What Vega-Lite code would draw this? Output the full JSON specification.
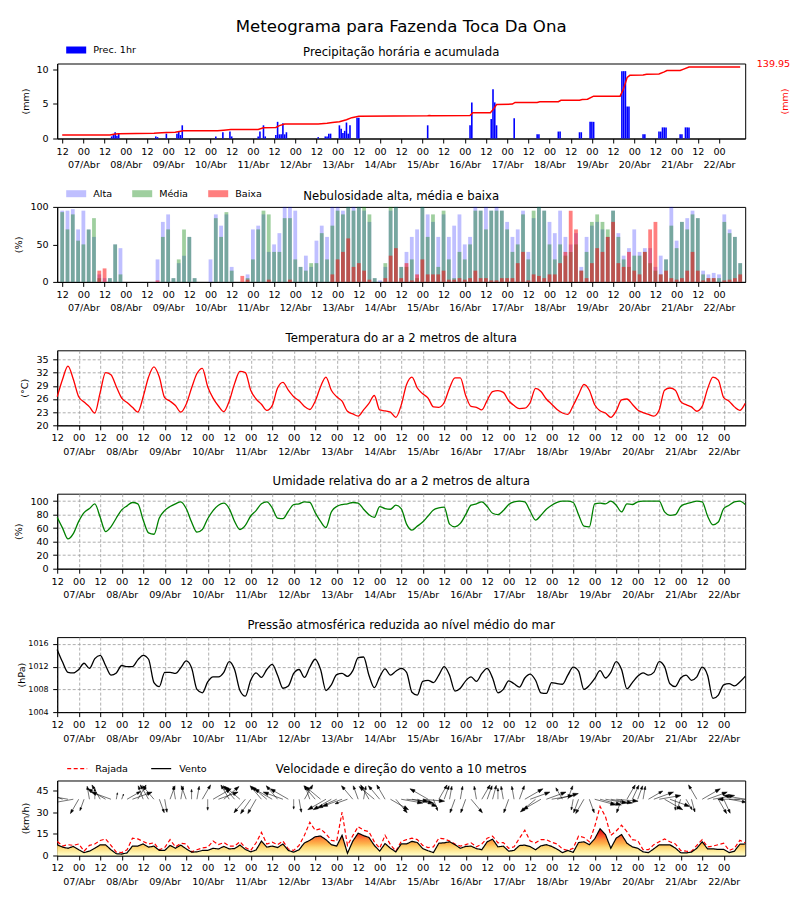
{
  "$schema": "https://vega.github.io/schema/vega-lite/v6.json",
  "autosize": {"type": "pad"},
  "padding": {"left": 12.2, "top": 18.5, "right": 12, "bottom": 10},
  "background": "white",
  "title": {"text": "Meteograma para Fazenda Toca Da Ona", "fontSize": 16.6, "fontWeight": "normal", "font": "DejaVu Sans", "color": "black", "anchor": "middle", "frame": "group", "baseline": "alphabetic", "offset": -9.5},
  "config": {
    "font": "DejaVu Sans",
    "view": {"stroke": "black", "strokeWidth": 1},
    "axis": {"domainColor": "black", "domainWidth": 1, "tickColor": "black", "tickWidth": 1, "tickSize": 4.5, "labelColor": "black", "labelFontSize": 9.6, "titleFontSize": 9.6, "titleFontWeight": "normal", "titleColor": "black", "grid": false, "gridColor": "#999999", "gridDash": [3, 2], "gridWidth": 0.8, "labelOverlap": false},
    "axisX": {"labelPadding": 3, "labelLineHeight": 13.5, "labelFlush": false, "labelOverlap": false},
    "axisY": {"labelPadding": 4.5, "titleAngle": 270, "titleAlign": "center", "titleBaseline": "middle"},
    "title": {"fontSize": 11.7, "fontWeight": "normal", "font": "DejaVu Sans", "color": "black", "anchor": "middle", "frame": "group", "baseline": "alphabetic"},
    "legend": {"padding": 0, "labelFontSize": 9.6, "labelColor": "black", "labelOffset": 7, "title": null}
  },
  "datasets": {
    "met": [
      {"h":0,"T":26.5,"U":76,"P":1015,"V":7.4,"R":9.7,"D":-60,"S":1.9,"A":95,"M":93,"B":0},
      {"h":3,"T":30.5,"U":60,"P":1012.8,"V":5.8,"R":6.6,"D":-70,"S":1.9,"A":95,"M":70,"B":0},
      {"h":6,"T":33.5,"U":44,"P":1011,"V":5,"R":7.5,"D":-80,"S":2.0,"A":97,"M":90,"B":0},
      {"h":9,"T":30.5,"U":52,"P":1010.9,"V":6.3,"R":7,"D":-100,"S":2.0,"A":70,"M":55,"B":0},
      {"h":12,"T":26.5,"U":70,"P":1011.5,"V":4,"R":8,"D":210,"S":1.5,"A":95,"M":50,"B":0},
      {"h":15,"T":25.3,"U":83,"P":1012.6,"V":2,"R":3,"D":200,"S":1.1,"A":70,"M":70,"B":0},
      {"h":18,"T":24.2,"U":89,"P":1011.7,"V":3,"R":7,"D":-10,"S":1.2,"A":60,"M":85,"B":0},
      {"h":21,"T":22.8,"U":96,"P":1013.4,"V":5,"R":8,"D":0,"S":1.0,"A":10,"M":5,"B":15},
      {"h":24,"T":27.5,"U":76,"P":1014,"V":7.4,"R":10.4,"D":-30,"S":1.5,"A":5,"M":0,"B":18},
      {"h":27,"T":32,"U":55,"P":1012.2,"V":7.4,"R":11.5,"D":-60,"S":1.9,"A":5,"M":5,"B":0},
      {"h":30,"T":31.5,"U":62,"P":1010.5,"V":4,"R":7,"D":-70,"S":1.9,"A":50,"M":50,"B":0},
      {"h":33,"T":28.8,"U":75,"P":1010.9,"V":1.2,"R":2.3,"D":10,"S":0.6,"A":45,"M":10,"B":0},
      {"h":36,"T":26.2,"U":87,"P":1012.2,"V":1,"R":2,"D":20,"S":0.5,"A":0,"M":0,"B":0},
      {"h":39,"T":25.2,"U":93,"P":1012,"V":1.8,"R":4,"D":60,"S":1.4,"A":0,"M":0,"B":0},
      {"h":42,"T":24.1,"U":98,"P":1012,"V":6.5,"R":12,"D":70,"S":1.9,"A":0,"M":0,"B":0},
      {"h":45,"T":23.0,"U":96,"P":1013.2,"V":6.5,"R":11.5,"D":30,"S":1.5,"A":0,"M":0,"B":0},
      {"h":48,"T":26.5,"U":72,"P":1014,"V":8,"R":9.7,"D":-20,"S":1.3,"A":0,"M":0,"B":0},
      {"h":51,"T":31,"U":53,"P":1013.3,"V":5.8,"R":8,"D":-30,"S":1.5,"A":0,"M":0,"B":0},
      {"h":54,"T":33.3,"U":51,"P":1009.2,"V":6.5,"R":8.8,"D":-40,"S":1.6,"A":30,"M":0,"B":2},
      {"h":57,"T":31,"U":75,"P":1008.5,"V":3.5,"R":4,"D":160,"S":1.3,"A":80,"M":60,"B":0},
      {"h":60,"T":26.3,"U":86,"P":1011,"V":3.5,"R":5.5,"D":170,"S":1.2,"A":90,"M":70,"B":0},
      {"h":63,"T":25.5,"U":92,"P":1011,"V":7,"R":11,"D":20,"S":1.3,"A":5,"M":5,"B":0},
      {"h":66,"T":24.5,"U":96,"P":1010.8,"V":5,"R":6,"D":-10,"S":1.2,"A":25,"M":30,"B":0},
      {"h":69,"T":23.0,"U":99,"P":1011.8,"V":7.2,"R":8.5,"D":10,"S":1.2,"A":35,"M":70,"B":0},
      {"h":72,"T":24.8,"U":89,"P":1013,"V":4.6,"R":8,"D":-20,"S":1.3,"A":60,"M":60,"B":0},
      {"h":75,"T":28.5,"U":69,"P":1011.8,"V":2.3,"R":2.5,"D":0,"S":0.9,"A":5,"M":5,"B":0},
      {"h":78,"T":31.8,"U":54,"P":1008,"V":2.5,"R":4,"D":10,"S":1.2,"A":0,"M":0,"B":0},
      {"h":81,"T":33,"U":58,"P":1007.4,"V":3.5,"R":5.2,"D":30,"S":1.5,"A":0,"M":0,"B":0},
      {"h":84,"T":28.8,"U":74,"P":1009.3,"V":3.5,"R":5.8,"D":180,"S":1.0,"A":30,"M":0,"B":0},
      {"h":87,"T":26.2,"U":86,"P":1010.2,"V":5,"R":10,"D":60,"S":1.9,"A":90,"M":85,"B":0},
      {"h":90,"T":24.4,"U":94,"P":1010.2,"V":4.5,"R":7.5,"D":70,"S":1.9,"A":75,"M":60,"B":0},
      {"h":93,"T":23.1,"U":97,"P":1011,"V":6.3,"R":9,"D":50,"S":1.8,"A":90,"M":93,"B":0},
      {"h":96,"T":25.5,"U":89,"P":1012.9,"V":4.6,"R":6.5,"D":-30,"S":1.5,"A":20,"M":15,"B":0},
      {"h":99,"T":29.5,"U":70,"P":1011.5,"V":4.8,"R":6.5,"D":-40,"S":1.6,"A":0,"M":0,"B":0},
      {"h":102,"T":32.3,"U":58,"P":1007.8,"V":7.2,"R":9.6,"D":-50,"S":1.8,"A":0,"M":0,"B":8},
      {"h":105,"T":32,"U":64,"P":1006.8,"V":4.2,"R":5.5,"D":220,"S":1.6,"A":10,"M":5,"B":3},
      {"h":108,"T":28,"U":78,"P":1009.6,"V":2.5,"R":3.5,"D":215,"S":1.6,"A":70,"M":30,"B":0},
      {"h":111,"T":26,"U":86,"P":1010.9,"V":3.8,"R":8.8,"D":210,"S":1.5,"A":75,"M":70,"B":0},
      {"h":114,"T":24.8,"U":96,"P":1010.1,"V":10,"R":16,"D":-40,"S":1.6,"A":90,"M":95,"B":0},
      {"h":117,"T":23.4,"U":99,"P":1011.5,"V":5.8,"R":8,"D":-50,"S":1.8,"A":40,"M":90,"B":3},
      {"h":120,"T":24.5,"U":90,"P":1012.4,"V":6.5,"R":9.2,"D":-60,"S":1.9,"A":50,"M":40,"B":0},
      {"h":123,"T":28.5,"U":75,"P":1010.5,"V":5.5,"R":7.5,"D":-40,"S":1.6,"A":65,"M":40,"B":0},
      {"h":126,"T":29.8,"U":74,"P":1008.2,"V":8,"R":10,"D":-70,"S":1.9,"A":100,"M":85,"B":0},
      {"h":129,"T":28,"U":85,"P":1008.6,"V":3.5,"R":4.5,"D":-60,"S":1.9,"A":100,"M":85,"B":3},
      {"h":132,"T":26.5,"U":95,"P":1010.8,"V":2.3,"R":3.5,"D":180,"S":0.9,"A":95,"M":30,"B":0},
      {"h":135,"T":25.6,"U":96,"P":1011.5,"V":4,"R":7,"D":170,"S":1.2,"A":20,"M":20,"B":0},
      {"h":138,"T":24.3,"U":99,"P":1010.1,"V":8.7,"R":14,"D":30,"S":1.5,"A":35,"M":15,"B":0},
      {"h":141,"T":23.6,"U":98,"P":1011.9,"V":10.5,"R":23,"D":-20,"S":1.3,"A":20,"M":25,"B":0},
      {"h":144,"T":25.5,"U":83,"P":1013.3,"V":13,"R":17.5,"D":-40,"S":1.6,"A":55,"M":25,"B":0},
      {"h":147,"T":28.8,"U":70,"P":1011.5,"V":13.5,"R":18.5,"D":-50,"S":1.8,"A":75,"M":65,"B":0},
      {"h":150,"T":31,"U":61,"P":1007.8,"V":11,"R":15,"D":240,"S":1.9,"A":60,"M":30,"B":0},
      {"h":153,"T":28,"U":84,"P":1008.8,"V":7.5,"R":10.5,"D":240,"S":1.9,"A":100,"M":75,"B":10},
      {"h":156,"T":26.5,"U":92,"P":1010.6,"V":6.5,"R":10,"D":245,"S":1.9,"A":100,"M":95,"B":30},
      {"h":159,"T":25.5,"U":95,"P":1010.8,"V":14,"R":30,"D":250,"S":1.9,"A":95,"M":90,"B":40},
      {"h":162,"T":23.2,"U":96,"P":1010.3,"V":1.5,"R":7,"D":250,"S":1.2,"A":100,"M":100,"B":58},
      {"h":165,"T":22.6,"U":98,"P":1011.3,"V":10,"R":13.8,"D":-40,"S":1.6,"A":100,"M":95,"B":20},
      {"h":168,"T":22.1,"U":97,"P":1013.6,"V":15.5,"R":20,"D":-20,"S":1.3,"A":100,"M":100,"B":25},
      {"h":171,"T":23.5,"U":88,"P":1013.7,"V":13.8,"R":17.5,"D":10,"S":1.2,"A":95,"M":100,"B":15},
      {"h":174,"T":25,"U":80,"P":1010.5,"V":12.5,"R":16.5,"D":-30,"S":1.5,"A":80,"M":90,"B":3},
      {"h":177,"T":26.8,"U":76,"P":1008.3,"V":7,"R":9.5,"D":-50,"S":1.8,"A":5,"M":5,"B":0},
      {"h":180,"T":23.5,"U":92,"P":1010.2,"V":3,"R":5,"D":-40,"S":1.6,"A":2,"M":0,"B":0},
      {"h":183,"T":23.3,"U":89,"P":1011.6,"V":8.3,"R":14,"D":-30,"S":1.5,"A":20,"M":25,"B":5},
      {"h":186,"T":23,"U":88,"P":1010.5,"V":5,"R":7.5,"D":120,"S":1.9,"A":95,"M":100,"B":35},
      {"h":189,"T":21.8,"U":94,"P":1011.2,"V":2.5,"R":3,"D":140,"S":1.6,"A":100,"M":100,"B":45},
      {"h":192,"T":24.6,"U":89,"P":1011.7,"V":8,"R":9.7,"D":100,"S":2.0,"A":20,"M":20,"B":5},
      {"h":195,"T":29.3,"U":66,"P":1011,"V":8,"R":11,"D":95,"S":2.0,"A":40,"M":20,"B":25},
      {"h":198,"T":31,"U":57,"P":1007.5,"V":9.8,"R":12,"D":100,"S":2.0,"A":60,"M":30,"B":2},
      {"h":201,"T":28.5,"U":63,"P":1007,"V":9,"R":11,"D":110,"S":1.9,"A":70,"M":5,"B":10},
      {"h":204,"T":27.2,"U":69,"P":1009.4,"V":4.8,"R":7,"D":95,"S":2.0,"A":100,"M":100,"B":30},
      {"h":207,"T":26.2,"U":78,"P":1009.6,"V":3.3,"R":5.5,"D":-60,"S":1.9,"A":90,"M":60,"B":10},
      {"h":210,"T":24.2,"U":87,"P":1009.2,"V":2,"R":6,"D":160,"S":1.1,"A":80,"M":90,"B":10},
      {"h":213,"T":24.1,"U":90,"P":1010.5,"V":8.5,"R":12,"D":30,"S":1.5,"A":60,"M":20,"B":10},
      {"h":216,"T":25.2,"U":91,"P":1012,"V":8.8,"R":11.5,"D":20,"S":1.3,"A":90,"M":95,"B":15},
      {"h":219,"T":28.5,"U":66,"P":1010.5,"V":9.5,"R":10,"D":10,"S":1.2,"A":60,"M":30,"B":3},
      {"h":222,"T":30.8,"U":62,"P":1007.7,"V":7.5,"R":8,"D":200,"S":1.3,"A":75,"M":5,"B":3},
      {"h":225,"T":30.8,"U":67,"P":1008.2,"V":5,"R":6.5,"D":10,"S":1.2,"A":90,"M":40,"B":5},
      {"h":228,"T":26.8,"U":80,"P":1009.5,"V":6.3,"R":7.5,"D":200,"S":1.3,"A":50,"M":30,"B":3},
      {"h":231,"T":24.3,"U":94,"P":1010.2,"V":6.5,"R":8.8,"D":140,"S":1.6,"A":60,"M":50,"B":5},
      {"h":234,"T":24.1,"U":96,"P":1009.4,"V":4.8,"R":6,"D":-10,"S":1.2,"A":100,"M":95,"B":15},
      {"h":237,"T":23.5,"U":99,"P":1010.8,"V":4,"R":8,"D":30,"S":1.5,"A":95,"M":95,"B":5},
      {"h":240,"T":25.7,"U":92,"P":1011.7,"V":9.5,"R":12,"D":20,"S":1.3,"A":100,"M":70,"B":5},
      {"h":243,"T":27.7,"U":82,"P":1010,"V":11.3,"R":13.4,"D":15,"S":1.3,"A":95,"M":95,"B":2},
      {"h":246,"T":27.9,"U":80,"P":1007.4,"V":6,"R":8.8,"D":0,"S":1.0,"A":100,"M":95,"B":2},
      {"h":249,"T":27.5,"U":86,"P":1008,"V":6.5,"R":9,"D":-10,"S":1.2,"A":95,"M":95,"B":5},
      {"h":252,"T":25.6,"U":95,"P":1009.5,"V":3,"R":5,"D":200,"S":1.3,"A":80,"M":70,"B":5},
      {"h":255,"T":24.5,"U":99,"P":1009,"V":3.5,"R":6,"D":-10,"S":1.2,"A":60,"M":40,"B":5},
      {"h":258,"T":23.8,"U":100,"P":1008.4,"V":6.9,"R":12,"D":20,"S":1.3,"A":70,"M":50,"B":25},
      {"h":261,"T":23.9,"U":99,"P":1010,"V":7.2,"R":17.5,"D":60,"S":1.9,"A":95,"M":90,"B":40},
      {"h":264,"T":25.2,"U":85,"P":1010.7,"V":6.2,"R":10,"D":70,"S":1.9,"A":40,"M":30,"B":2},
      {"h":267,"T":28.4,"U":72,"P":1009.6,"V":4,"R":8.8,"D":230,"S":1.8,"A":85,"M":95,"B":10},
      {"h":270,"T":27.7,"U":79,"P":1007.4,"V":6.7,"R":11,"D":240,"S":1.9,"A":100,"M":100,"B":8},
      {"h":273,"T":26,"U":88,"P":1007.3,"V":7.5,"R":11,"D":70,"S":1.9,"A":95,"M":95,"B":5},
      {"h":276,"T":24.8,"U":94,"P":1009.2,"V":6.3,"R":9.2,"D":80,"S":2.0,"A":80,"M":50,"B":10},
      {"h":279,"T":23.6,"U":98,"P":1009,"V":4.4,"R":8,"D":75,"S":2.0,"A":65,"M":30,"B":10},
      {"h":282,"T":22.8,"U":100,"P":1008.9,"V":2,"R":4.5,"D":-30,"S":1.2,"A":95,"M":50,"B":25},
      {"h":285,"T":22.5,"U":100,"P":1010.5,"V":3.5,"R":3.5,"D":20,"S":1.3,"A":60,"M":35,"B":40},
      {"h":288,"T":24.5,"U":98,"P":1011.9,"V":2.2,"R":5,"D":190,"S":1.0,"A":50,"M":40,"B":95},
      {"h":291,"T":27,"U":80,"P":1011.2,"V":9,"R":13.5,"D":200,"S":1.3,"A":65,"M":50,"B":70},
      {"h":294,"T":29.3,"U":63,"P":1008,"V":9.5,"R":12.5,"D":210,"S":1.5,"A":20,"M":15,"B":15},
      {"h":297,"T":28,"U":62,"P":1008.7,"V":7.5,"R":9.5,"D":160,"S":1.3,"A":60,"M":40,"B":5},
      {"h":300,"T":24.7,"U":96,"P":1009.9,"V":11.5,"R":20,"D":105,"S":2.0,"A":75,"M":80,"B":25},
      {"h":303,"T":23.3,"U":97,"P":1011.3,"V":18.5,"R":34,"D":105,"S":2.0,"A":80,"M":90,"B":45},
      {"h":306,"T":22.8,"U":96,"P":1010,"V":14.5,"R":27,"D":100,"S":2.0,"A":70,"M":80,"B":40},
      {"h":309,"T":21.8,"U":100,"P":1011,"V":5,"R":14,"D":100,"S":2.0,"A":60,"M":70,"B":60},
      {"h":312,"T":23.3,"U":94,"P":1012.9,"V":12,"R":17,"D":95,"S":2.0,"A":95,"M":95,"B":80},
      {"h":315,"T":25.8,"U":84,"P":1011.5,"V":14.5,"R":21,"D":200,"S":1.3,"A":65,"M":60,"B":25},
      {"h":318,"T":26,"U":96,"P":1008.1,"V":8.5,"R":16.5,"D":30,"S":1.5,"A":35,"M":30,"B":20},
      {"h":321,"T":24.8,"U":95,"P":1009.2,"V":6,"R":11,"D":25,"S":1.4,"A":45,"M":20,"B":40},
      {"h":324,"T":23.5,"U":99,"P":1010.3,"V":5,"R":10.4,"D":20,"S":1.3,"A":70,"M":35,"B":15},
      {"h":327,"T":22.9,"U":100,"P":1010.9,"V":2.5,"R":4,"D":10,"S":1.2,"A":40,"M":35,"B":10},
      {"h":330,"T":22.5,"U":100,"P":1010.5,"V":2,"R":4,"D":60,"S":1.5,"A":45,"M":40,"B":40},
      {"h":333,"T":22.1,"U":100,"P":1011,"V":4.6,"R":7.5,"D":70,"S":1.9,"A":45,"M":25,"B":70},
      {"h":336,"T":23.5,"U":100,"P":1012.9,"V":7.4,"R":9.5,"D":80,"S":2.0,"A":20,"M":15,"B":80},
      {"h":339,"T":28,"U":84,"P":1012,"V":7.4,"R":11.5,"D":120,"S":1.9,"A":35,"M":10,"B":10},
      {"h":342,"T":28.5,"U":79,"P":1009,"V":7.4,"R":9.5,"D":110,"S":1.9,"A":30,"M":30,"B":15},
      {"h":345,"T":28,"U":80,"P":1008.5,"V":5.2,"R":8,"D":180,"S":1.0,"A":100,"M":75,"B":5},
      {"h":348,"T":25.4,"U":92,"P":1010,"V":1.9,"R":3.5,"D":200,"S":1.0,"A":55,"M":45,"B":3},
      {"h":351,"T":24.7,"U":96,"P":1010.5,"V":1.8,"R":3,"D":150,"S":1.1,"A":80,"M":80,"B":5},
      {"h":354,"T":24.2,"U":98,"P":1009.6,"V":2.3,"R":2.8,"D":165,"S":1.2,"A":85,"M":70,"B":15},
      {"h":357,"T":23.2,"U":100,"P":1010.2,"V":5,"R":7,"D":-30,"S":1.5,"A":95,"M":90,"B":40},
      {"h":360,"T":24.3,"U":99,"P":1011.9,"V":9.5,"R":11,"D":60,"S":1.9,"A":85,"M":85,"B":15},
      {"h":363,"T":28.3,"U":78,"P":1010.5,"V":4.6,"R":6,"D":70,"S":1.9,"A":15,"M":10,"B":2},
      {"h":366,"T":31,"U":65,"P":1006.4,"V":4.6,"R":6.5,"D":80,"S":2.0,"A":10,"M":5,"B":5},
      {"h":369,"T":30.3,"U":69,"P":1007,"V":4.2,"R":7.5,"D":150,"S":1.5,"A":12,"M":5,"B":5},
      {"h":372,"T":26.3,"U":89,"P":1008.8,"V":4.2,"R":8.5,"D":155,"S":1.4,"A":10,"M":5,"B":0},
      {"h":375,"T":25.5,"U":94,"P":1009,"V":2,"R":3.5,"D":100,"S":1.6,"A":90,"M":80,"B":2},
      {"h":378,"T":24.2,"U":99,"P":1008.6,"V":3,"R":5,"D":90,"S":2.0,"A":70,"M":65,"B":3},
      {"h":381,"T":23.4,"U":100,"P":1009.3,"V":7.8,"R":10.5,"D":270,"S":2.0,"A":60,"M":60,"B":5},
      {"h":384,"T":25,"U":95,"P":1010.3,"V":8,"R":8.8,"D":280,"S":2.0,"A":25,"M":25,"B":10}
    ],
    "prec": [
      {"h":28,"p":0.3},{"h":29,"p":0.5},{"h":30,"p":0.9},{"h":31,"p":0.4},{"h":32,"p":0.7},
      {"h":53,"p":0.3},{"h":54,"p":0.2},{"h":59,"p":0.7},
      {"h":65,"p":0.7},{"h":66,"p":1.0},{"h":67,"p":0.5},{"h":68,"p":1.9},
      {"h":87,"p":0.3},{"h":91,"p":0.9},{"h":95,"p":1.0},{"h":96,"p":0.3},
      {"h":111,"p":0.3},{"h":112,"p":1.0},{"h":114,"p":1.9},{"h":115,"p":0.3},
      {"h":121,"p":0.5},{"h":122,"p":2.4},{"h":123,"p":0.6},{"h":124,"p":0.6},{"h":125,"p":2.2},{"h":126,"p":0.6},{"h":127,"p":0.9},
      {"h":145,"p":0.2},{"h":149,"p":0.3},{"h":150,"p":0.3},{"h":151,"p":0.7},{"h":152,"p":0.7},
      {"h":157,"p":1.9},{"h":158,"p":1.4},{"h":159,"p":0.8},{"h":160,"p":1.1},{"h":161,"p":2.3},{"h":162,"p":0.7},{"h":163,"p":1.9},
      {"h":167,"p":3.0},{"h":168,"p":3.0},
      {"h":207,"p":1.9},{"h":231,"p":1.9},{"h":232,"p":5.2},
      {"h":243,"p":2.8},{"h":244,"p":7.1},{"h":245,"p":5.2},{"h":246,"p":1.9},
      {"h":256,"p":2.9},{"h":269,"p":0.6},{"h":270,"p":0.6},{"h":281,"p":1.0},{"h":282,"p":1.0},
      {"h":293,"p":0.9},{"h":294,"p":0.9},{"h":299,"p":2.4},{"h":300,"p":2.4},{"h":301,"p":2.4},
      {"h":317,"p":9.7},{"h":318,"p":9.7},{"h":319,"p":9.7},{"h":320,"p":4.6},{"h":321,"p":4.6},
      {"h":329,"p":0.6},{"h":330,"p":0.6},
      {"h":338,"p":1.0},{"h":339,"p":1.0},{"h":340,"p":1.6},{"h":341,"p":1.6},{"h":342,"p":1.6},
      {"h":350,"p":0.6},{"h":351,"p":0.6},{"h":353,"p":1.6},{"h":354,"p":1.6},{"h":355,"p":1.6}
    ],
    "acum": [
      {"h":0,"a":6.5},{"h":27,"a":6.5},{"h":30,"a":8.4},{"h":32,"a":9.1},{"h":52,"a":9.7},{"h":54,"a":10.4},
      {"h":59,"a":11.0},{"h":64,"a":11.7},{"h":68.5,"a":14.3},{"h":88,"a":14.3},{"h":91.5,"a":15.6},{"h":95.5,"a":16.9},
      {"h":111,"a":16.9},{"h":114,"a":20.1},{"h":121,"a":20.7},{"h":123,"a":24.0},{"h":126,"a":27.2},{"h":145,"a":27.2},
      {"h":150,"a":28.5},{"h":153,"a":29.8},{"h":157,"a":31.1},{"h":161,"a":35.0},{"h":164,"a":38.9},{"h":168,"a":41.5},
      {"h":207,"a":42.4},{"h":208,"a":43.0},{"h":209,"a":42.5},{"h":231,"a":42.8},{"h":232.5,"a":48.0},{"h":242.5,"a":48.0},
      {"h":244.5,"a":55.7},{"h":246,"a":63.5},{"h":255,"a":64.2},{"h":256.5,"a":67.4},{"h":269,"a":67.4},{"h":270.5,"a":68.7},
      {"h":281,"a":68.7},{"h":282.5,"a":71.3},{"h":293,"a":71.3},{"h":294.5,"a":72.6},{"h":297.5,"a":73.2},{"h":301,"a":79.1},
      {"h":316,"a":79.1},{"h":318,"a":93.3},{"h":320,"a":114.1},{"h":321.5,"a":118.0},{"h":329,"a":118.6},{"h":331,"a":119.9},
      {"h":338,"a":120.6},{"h":341,"a":124.4},{"h":342.5,"a":127.0},{"h":350,"a":127.0},{"h":352,"a":129.6},{"h":355,"a":133.5},
      {"h":384,"a":133.5}
    ]
  },
  "vconcat": [
    {
      "width": 688, "height": 75,
      "title": {"text": "Precipitação horária e acumulada", "offset": -18.8},
      "layer": [
        {
          "data": {"name": "prec"},
          "mark": {"type": "bar", "width": 1.6},
          "encoding": {
            "x": {"field": "h", "type": "quantitative", "title": null, "scale": {"domain": [0, 384], "nice": false, "zero": false},
                  "axis": {"title": null, "grid": false, "labelOverlap": false, "labelFlush": false, "labelPadding": 3, "labelLineHeight": 13.5, "tickSize": 4.5, "values": [0,12,24,36,48,60,72,84,96,108,120,132,144,156,168,180,192,204,216,228,240,252,264,276,288,300,312,324,336,348,360,372], "labelExpr": "datum.value % 24 == 12 ? ['00', (floor(datum.value / 24) + 7 < 10 ? '0' : '') + (floor(datum.value / 24) + 7) + '/Abr'] : '12'"}},
            "y": {"field": "p", "type": "quantitative", "scale": {"domain": [0, 10.8], "nice": false}, "axis": {"values": [0, 5, 10], "labelOverlap": false, "labelPadding": 4.5, "tickSize": 4.5, "title": "(mm)", "titleAngle": 270, "titleAlign": "center", "titleBaseline": "middle", "titleX": -32, "titleY": 37.5}},
            "color": {"datum": "Prec. 1hr", "type": "nominal", "scale": {"range": ["blue"]},
                      "legend": {"orient": "none", "legendX": 9, "legendY": -23.5, "symbolType": "M-1,-0.35H1V0.35H-1Z", "symbolSize": 400, "symbolStrokeWidth": 0}}
          }
        },
        {
          "data": {"name": "acum"},
          "mark": {"type": "line", "color": "red", "strokeWidth": 1.5},
          "encoding": {
            "x": {"field": "h", "type": "quantitative", "title": null,
                  "axis": {"title": null, "grid": false, "labelOverlap": false, "labelFlush": false, "labelPadding": 3, "labelLineHeight": 13.5, "tickSize": 4.5, "values": [0,12,24,36,48,60,72,84,96,108,120,132,144,156,168,180,192,204,216,228,240,252,264,276,288,300,312,324,336,348,360,372], "labelExpr": "datum.value % 24 == 12 ? ['00', (floor(datum.value / 24) + 7 < 10 ? '0' : '') + (floor(datum.value / 24) + 7) + '/Abr'] : '12'"}},
            "y": {"field": "a", "type": "quantitative", "scale": {"domain": [0, 140], "nice": false},
                  "axis": {"orient": "right", "values": [139.95], "format": ".2f", "labelOverlap": false, "title": "(mm)", "titleColor": "red", "labelColor": "red", "ticks": false, "tickSize": 0, "domain": false, "labelPadding": 11, "titleAngle": 270, "titleAlign": "center", "titleBaseline": "middle", "titleX": 39, "titleY": 37.5}}
          }
        }
      ],
      "resolve": {"scale": {"y": "independent"}}
    },
    {
      "width": 688, "height": 75,
      "title": {"text": "Nebulosidade alta, média e baixa", "offset": -18.8},
      "data": {"name": "met"},
      "transform": [{"fold": ["A", "M", "B"], "as": ["k", "c"]}],
      "mark": {"type": "bar", "width": 3.8},
      "encoding": {
        "x": {"field": "h", "type": "quantitative", "title": null, "scale": {"domain": [0, 384], "nice": false, "zero": false},
              "axis": {"title": null, "grid": false, "labelOverlap": false, "labelFlush": false, "labelPadding": 3, "labelLineHeight": 13.5, "tickSize": 4.5, "values": [0,12,24,36,48,60,72,84,96,108,120,132,144,156,168,180,192,204,216,228,240,252,264,276,288,300,312,324,336,348,360,372], "labelExpr": "datum.value % 24 == 12 ? ['00', (floor(datum.value / 24) + 7 < 10 ? '0' : '') + (floor(datum.value / 24) + 7) + '/Abr'] : '12'"}},
        "y": {"field": "c", "type": "quantitative", "stack": null, "scale": {"domain": [0, 100], "nice": false}, "axis": {"values": [0, 50, 100], "labelOverlap": false, "title": "(%)", "titleX": -39, "titleY": 37.5}},
        "color": {"field": "k", "type": "nominal", "scale": {"domain": ["A", "M", "B"], "range": ["blue", "green", "red"]},
                  "legend": {"orient": "none", "legendX": 9, "legendY": -23.4, "direction": "horizontal", "columns": 3, "columnPadding": 20, "symbolType": "M-1,-0.35H1V0.35H-1Z", "symbolSize": 400, "symbolStrokeWidth": 0, "labelExpr": "datum.label == 'A' ? 'Alta' : datum.label == 'M' ? 'Média' : 'Baixa'"}},
        "opacity": {"field": "k", "type": "nominal", "scale": {"domain": ["A", "M", "B"], "range": [0.25, 0.5, 0.5]},
                  "legend": {"orient": "none", "legendX": 9, "legendY": -23.4, "direction": "horizontal", "columns": 3, "columnPadding": 20, "symbolType": "M-1,-0.35H1V0.35H-1Z", "symbolSize": 400, "symbolStrokeWidth": 0, "labelExpr": "datum.label == 'A' ? 'Alta' : datum.label == 'M' ? 'Média' : 'Baixa'"}}
      }
    },
    {
      "width": 688, "height": 75,
      "title": {"text": "Temperatura do ar a 2 metros de altura", "offset": 5.5},
      "data": {"name": "met"},
      "mark": {"type": "line", "color": "red", "strokeWidth": 1.3, "interpolate": "monotone"},
      "encoding": {
        "x": {"field": "h", "type": "quantitative", "title": null, "scale": {"domain": [0, 384], "nice": false, "zero": false},
              "axis": {"title": null, "grid": true, "labelOverlap": false, "labelFlush": false, "labelPadding": 3, "labelLineHeight": 13.5, "tickSize": 4.5, "values": [0,12,24,36,48,60,72,84,96,108,120,132,144,156,168,180,192,204,216,228,240,252,264,276,288,300,312,324,336,348,360,372], "labelExpr": "datum.value % 24 == 12 ? ['00', (floor(datum.value / 24) + 7 < 10 ? '0' : '') + (floor(datum.value / 24) + 7) + '/Abr'] : '12'"}},
        "y": {"field": "T", "type": "quantitative", "scale": {"domain": [20, 37.1], "nice": false, "zero": false}, "axis": {"grid": true, "labelOverlap": false, "values": [20, 23, 26, 29, 32, 35], "title": "(°C)", "titleX": -33, "titleY": 37.5}}
      }
    },
    {
      "width": 688, "height": 75,
      "title": {"text": "Umidade relativa do ar a 2 metros de altura", "offset": 5.5},
      "data": {"name": "met"},
      "mark": {"type": "line", "color": "#008000", "strokeWidth": 1.3, "interpolate": "monotone"},
      "encoding": {
        "x": {"field": "h", "type": "quantitative", "title": null, "scale": {"domain": [0, 384], "nice": false, "zero": false},
              "axis": {"title": null, "grid": true, "labelOverlap": false, "labelFlush": false, "labelPadding": 3, "labelLineHeight": 13.5, "tickSize": 4.5, "values": [0,12,24,36,48,60,72,84,96,108,120,132,144,156,168,180,192,204,216,228,240,252,264,276,288,300,312,324,336,348,360,372], "labelExpr": "datum.value % 24 == 12 ? ['00', (floor(datum.value / 24) + 7 < 10 ? '0' : '') + (floor(datum.value / 24) + 7) + '/Abr'] : '12'"}},
        "y": {"field": "U", "type": "quantitative", "scale": {"domain": [0, 111], "nice": false}, "axis": {"grid": true, "labelOverlap": false, "values": [0, 20, 40, 60, 80, 100], "title": "(%)", "titleX": -39, "titleY": 37.5}}
      }
    },
    {
      "width": 688, "height": 75,
      "title": {"text": "Pressão atmosférica reduzida ao nível médio do mar", "offset": 5.5},
      "data": {"name": "met"},
      "mark": {"type": "line", "color": "black", "strokeWidth": 1.3, "interpolate": "monotone"},
      "encoding": {
        "x": {"field": "h", "type": "quantitative", "title": null, "scale": {"domain": [0, 384], "nice": false, "zero": false},
              "axis": {"title": null, "grid": true, "labelOverlap": false, "labelFlush": false, "labelPadding": 3, "labelLineHeight": 13.5, "tickSize": 4.5, "values": [0,12,24,36,48,60,72,84,96,108,120,132,144,156,168,180,192,204,216,228,240,252,264,276,288,300,312,324,336,348,360,372], "labelExpr": "datum.value % 24 == 12 ? ['00', (floor(datum.value / 24) + 7 < 10 ? '0' : '') + (floor(datum.value / 24) + 7) + '/Abr'] : '12'"}},
        "y": {"field": "P", "type": "quantitative", "scale": {"domain": [1004, 1017.2], "nice": false, "zero": false}, "axis": {"grid": true, "labelOverlap": false, "labelFontSize": 8, "values": [1004, 1008, 1012, 1016], "format": "d", "title": "(hPa)", "titleX": -36, "titleY": 37.5}}
      }
    },
    {
      "width": 688, "height": 75,
      "title": {"text": "Velocidade e direção do vento a 10 metros", "offset": -18.4},
      "data": {"name": "met"},
      "layer": [
        {
          "mark": {"type": "area", "line": false, "color": {"gradient": "linear", "x1": 0, "y1": 1, "x2": 0, "y2": 0, "stops": [{"offset": 0, "color": "#ffffcc"}, {"offset": 0.15, "color": "#ffeda0"}, {"offset": 0.3, "color": "#fed976"}, {"offset": 0.45, "color": "#feb24c"}, {"offset": 0.6, "color": "#fd8d3c"}, {"offset": 0.75, "color": "#fc4e2a"}, {"offset": 0.9, "color": "#e31a1c"}, {"offset": 1, "color": "#bd0026"}]}},
          "encoding": {
            "x": {"field": "h", "type": "quantitative", "title": null, "scale": {"domain": [0, 384], "nice": false, "zero": false},
                  "axis": {"title": null, "grid": false, "labelOverlap": false, "labelFlush": false, "labelPadding": 3, "labelLineHeight": 13.5, "tickSize": 4.5, "values": [0,12,24,36,48,60,72,84,96,108,120,132,144,156,168,180,192,204,216,228,240,252,264,276,288,300,312,324,336,348,360,372], "labelExpr": "datum.value % 24 == 12 ? ['00', (floor(datum.value / 24) + 7 < 10 ? '0' : '') + (floor(datum.value / 24) + 7) + '/Abr'] : '12'"}},
            "y": {"field": "V", "type": "quantitative", "scale": {"domain": [0, 52], "nice": false}, "axis": {"values": [0, 15, 30, 45], "labelOverlap": false, "labelPadding": 4.5, "tickSize": 4.5, "title": "(km/h)", "titleAngle": 270, "titleAlign": "center", "titleBaseline": "middle", "titleX": -32, "titleY": 37.5}}
          }
        },
        {
          "transform": [{"fold": ["R", "V"], "as": ["k", "w"]}],
          "mark": {"type": "line", "strokeWidth": 1.2},
          "encoding": {
            "x": {"field": "h", "type": "quantitative", "title": null,
                  "axis": {"title": null, "grid": false, "labelOverlap": false, "labelFlush": false, "labelPadding": 3, "labelLineHeight": 13.5, "tickSize": 4.5, "values": [0,12,24,36,48,60,72,84,96,108,120,132,144,156,168,180,192,204,216,228,240,252,264,276,288,300,312,324,336,348,360,372], "labelExpr": "datum.value % 24 == 12 ? ['00', (floor(datum.value / 24) + 7 < 10 ? '0' : '') + (floor(datum.value / 24) + 7) + '/Abr'] : '12'"}},
            "y": {"field": "w", "type": "quantitative", "axis": {"values": [0, 15, 30, 45], "labelOverlap": false, "labelPadding": 4.5, "tickSize": 4.5, "title": "(km/h)", "titleAngle": 270, "titleAlign": "center", "titleBaseline": "middle", "titleX": -32, "titleY": 37.5}},
            "color": {"field": "k", "type": "nominal", "scale": {"domain": ["R", "V"], "range": ["red", "black"]},
                      "legend": {"orient": "none", "legendX": 9, "legendY": -23, "direction": "horizontal", "columns": 2, "columnPadding": 20, "symbolType": "stroke", "symbolSize": 400, "symbolStrokeWidth": 1.3, "labelExpr": "datum.label == 'R' ? 'Rajada' : 'Vento'"}},
            "strokeDash": {"field": "k", "type": "nominal", "scale": {"domain": ["R", "V"], "range": [[4, 2.5], [1, 0]]},
                      "legend": {"orient": "none", "legendX": 9, "legendY": -23, "direction": "horizontal", "columns": 2, "columnPadding": 20, "symbolType": "stroke", "symbolSize": 400, "symbolStrokeWidth": 1.3, "labelExpr": "datum.label == 'R' ? 'Rajada' : 'Vento'"}}
          }
        },
        {
          "mark": {"type": "point", "shape": "M0,0L0,-0.8M-0.08,-0.76L0,-1L0.08,-0.76Z", "filled": true, "color": "black", "stroke": "black", "strokeWidth": 0.5, "opacity": 1, "clip": true},
          "encoding": {
            "x": {"field": "h", "type": "quantitative", "title": null,
                  "axis": {"title": null, "grid": false, "labelOverlap": false, "labelFlush": false, "labelPadding": 3, "labelLineHeight": 13.5, "tickSize": 4.5, "values": [0,12,24,36,48,60,72,84,96,108,120,132,144,156,168,180,192,204,216,228,240,252,264,276,288,300,312,324,336,348,360,372], "labelExpr": "datum.value % 24 == 12 ? ['00', (floor(datum.value / 24) + 7 < 10 ? '0' : '') + (floor(datum.value / 24) + 7) + '/Abr'] : '12'"}},
            "y": {"datum": 39, "axis": {"values": [0, 15, 30, 45], "labelOverlap": false, "labelPadding": 4.5, "tickSize": 4.5, "title": "(km/h)", "titleAngle": 270, "titleAlign": "center", "titleBaseline": "middle", "titleX": -32, "titleY": 37.5}},
            "angle": {"field": "D", "type": "quantitative", "scale": null},
            "size": {"field": "S", "type": "quantitative", "scale": {"type": "pow", "exponent": 2, "domain": [0, 2], "range": [0, 1936]}, "legend": null}
          }
        }
      ]
    }
  ],
  "spacing": 68.4,
  "bounds": "flush",
  "resolve": {"scale": {"color": "independent", "opacity": "independent", "strokeDash": "independent", "size": "independent"}}
}
